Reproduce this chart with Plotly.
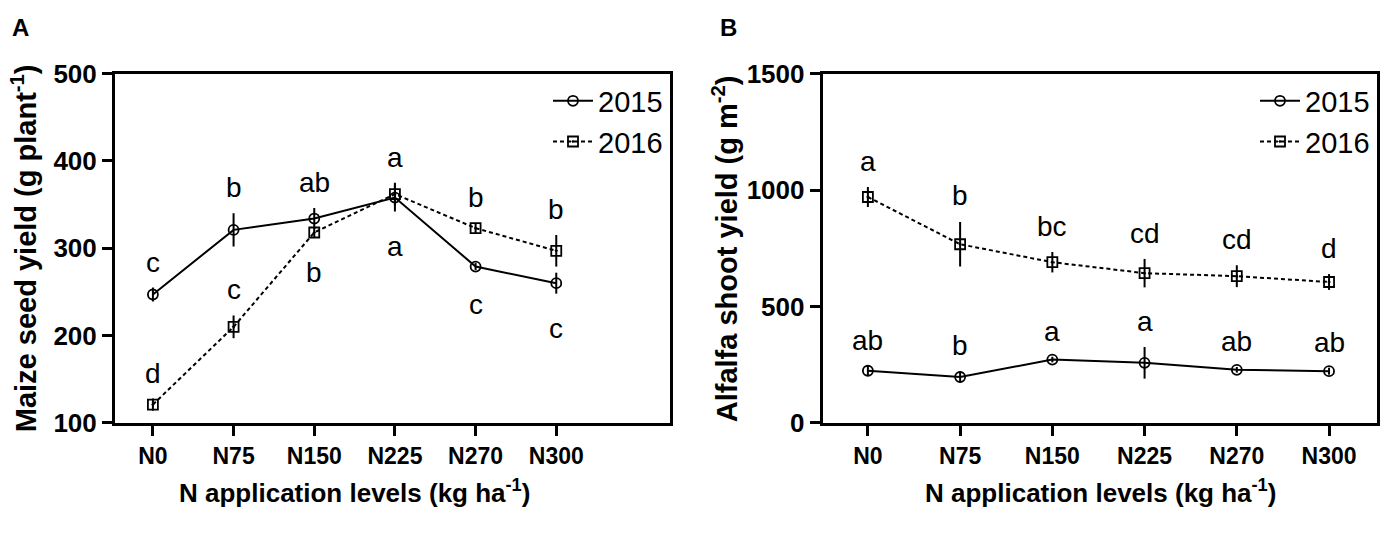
import plotly.graph_objects as go

# ---------------- data ----------------
levels = ["N0", "N75", "N150", "N225", "N270", "N300"]

a_2015 = [247, 321, 334, 358, 279, 260]
a_2015_err = [8, 19, 12, 16, 4, 12]
a_2016 = [121, 210, 318, 362, 323, 297]
a_2016_err = [7, 13, 6, 13, 6, 18]
a_2015_letters = ["c", "b", "ab", "a", "c", "c"]
a_2016_letters = ["d", "c", "b", "a", "b", "b"]
a_2015_side = ["above", "above", "above", "below", "below", "below"]
a_2016_side = ["above", "above", "below", "above", "above", "above"]

b_2015 = [224, 197, 272, 258, 228, 222]
b_2015_err = [20, 25, 12, 68, 12, 15]
b_2016 = [970, 767, 690, 643, 630, 605]
b_2016_err = [43, 96, 44, 61, 47, 34]
b_2015_letters = ["ab", "b", "a", "a", "ab", "ab"]
b_2016_letters = ["a", "b", "bc", "cd", "cd", "d"]
b_2015_side = ["above"] * 6
b_2016_side = ["above"] * 6

years = ["2015", "2016"]
a_ticks = [100, 200, 300, 400, 500]
b_ticks = [0, 500, 1000, 1500]

# ---------------- layout geometry ----------------
W, H = 1386, 538
FONT = "Liberation Sans, Arial, sans-serif"
top_px, bot_px = 62, 432
ydom = [(H - bot_px) / H, (H - top_px) / H]
xdomA = [115 / W, 670 / W]
xdomB = [822.7 / W, 1377 / W]
a_range = [100, 500]
b_range = [0, 1500]
plot_h = bot_px - top_px

fig = go.Figure()


def add_series(xa, ya, legend, vals, errs, name, sym, dash, showleg=True):
    fig.add_trace(go.Scatter(
        x=levels, y=vals, name=name, xaxis=xa, yaxis=ya, legend=legend,
        mode="lines+markers",
        line=dict(color="black", width=2, dash=dash),
        marker=dict(symbol=sym, size=10, color="black", line=dict(width=1.8, color="black")),
        error_y=dict(type="data", array=errs, visible=True, thickness=2, width=0, color="black"),
        showlegend=showleg,
    ))


add_series("x", "y", "legend", a_2015, a_2015_err, years[0], "circle-open", "solid")
add_series("x", "y", "legend", a_2016, a_2016_err, years[1], "square-open-dot", "4px,3px")
add_series("x2", "y2", "legend2", b_2015, b_2015_err, years[0], "circle-open", "solid")
add_series("x2", "y2", "legend2", b_2016, b_2016_err, years[1], "square-open-dot", "4px,3px")

annotations = []


def add_letters(xref, yref, vals, errs, letters, sides, rng):
    ppu = plot_h / (rng[1] - rng[0])
    for lv, v, e, t, s in zip(levels, vals, errs, letters, sides):
        epx = e * ppu
        shift = epx + 25 if s == "above" else -(epx + 34)
        annotations.append(dict(
            x=lv, y=v, xref=xref, yref=yref, text=t, showarrow=False,
            yshift=shift, font=dict(family=FONT, size=28, color="black"),
        ))


add_letters("x", "y", a_2015, a_2015_err, a_2015_letters, a_2015_side, a_range)
add_letters("x", "y", a_2016, a_2016_err, a_2016_letters, a_2016_side, a_range)
add_letters("x2", "y2", b_2015, b_2015_err, b_2015_letters, b_2015_side, b_range)
add_letters("x2", "y2", b_2016, b_2016_err, b_2016_letters, b_2016_side, b_range)

title_font = dict(family=FONT, size=26, color="black", weight="bold")
ytitle_font = dict(family=FONT, size=29, color="black", weight="bold")
annotations += [
    dict(text="N application levels (kg ha<sup>-1</sup>)", x=354.5 / W, y=(H - 505) / H,
         xref="paper", yref="paper", showarrow=False, font=title_font, xanchor="center", yanchor="middle"),
    dict(text="N application levels (kg ha<sup>-1</sup>)", x=1100 / W, y=(H - 505) / H,
         xref="paper", yref="paper", showarrow=False, font=title_font, xanchor="center", yanchor="middle"),
    dict(text="Maize seed yield (g plant<sup>-1</sup>)", x=24 / W, y=(H - 247) / H, textangle=-90,
         xref="paper", yref="paper", showarrow=False, font=ytitle_font, xanchor="center", yanchor="middle"),
    dict(text="Alfalfa shoot yield (g m<sup>-2</sup>)", x=725 / W, y=(H - 247) / H, textangle=-90,
         xref="paper", yref="paper", showarrow=False, font=ytitle_font, xanchor="center", yanchor="middle"),
    dict(text="A", x=20 / W, y=(H - 13) / H, xref="paper", yref="paper", showarrow=False,
         font=dict(family=FONT, size=24, color="black", weight="bold"), xanchor="center", yanchor="middle"),
    dict(text="B", x=728 / W, y=(H - 13) / H, xref="paper", yref="paper", showarrow=False,
         font=dict(family=FONT, size=24, color="black", weight="bold"), xanchor="center", yanchor="middle"),
]

tick_font = dict(family=FONT, size=23, color="black", weight="bold")
ytick_font = dict(family=FONT, size=26, color="black", weight="bold")
common_axis = dict(showline=True, linewidth=3, linecolor="black", mirror=True,
                   ticks="outside", ticklen=10, tickwidth=3, tickcolor="black",
                   showgrid=False, zeroline=False)

legend_common = dict(font=dict(family=FONT, size=29, color="black"), bgcolor="rgba(0,0,0,0)",
                     xanchor="right", yanchor="top", tracegroupgap=0, itemwidth=40)

fig.update_layout(
    width=W, height=H,
    margin=dict(l=0, r=0, t=0, b=0),
    paper_bgcolor="white", plot_bgcolor="white",
    xaxis=dict(domain=xdomA, anchor="y", type="category", categoryarray=levels,
               range=[-0.47, 6.41], tickfont=tick_font, **common_axis),
    yaxis=dict(domain=ydom, anchor="x", range=a_range, tickvals=a_ticks, tickfont=ytick_font, **common_axis),
    xaxis2=dict(domain=xdomB, anchor="y2", type="category", categoryarray=levels,
                range=[-0.49, 5.52], tickfont=tick_font, **common_axis),
    yaxis2=dict(domain=ydom, anchor="x2", range=b_range, tickvals=b_ticks, tickfont=ytick_font, **common_axis),
    legend=dict(x=668 / W, y=(H - 64) / H, **legend_common),
    legend2=dict(x=1375 / W, y=(H - 64) / H, **legend_common),
    annotations=annotations,
)

post_js = (
    "document.documentElement.style.margin='0';"
    "document.documentElement.style.overflow='hidden';"
    "document.body.style.margin='0';"
    "document.body.style.overflow='hidden';"
    "var gd=document.getElementById('{plot_id}');"
    "gd.style.position='fixed';gd.style.left='0px';gd.style.top='0px';"
)

fig.write_html("out.html", config={"displayModeBar": False}, post_script=post_js)
